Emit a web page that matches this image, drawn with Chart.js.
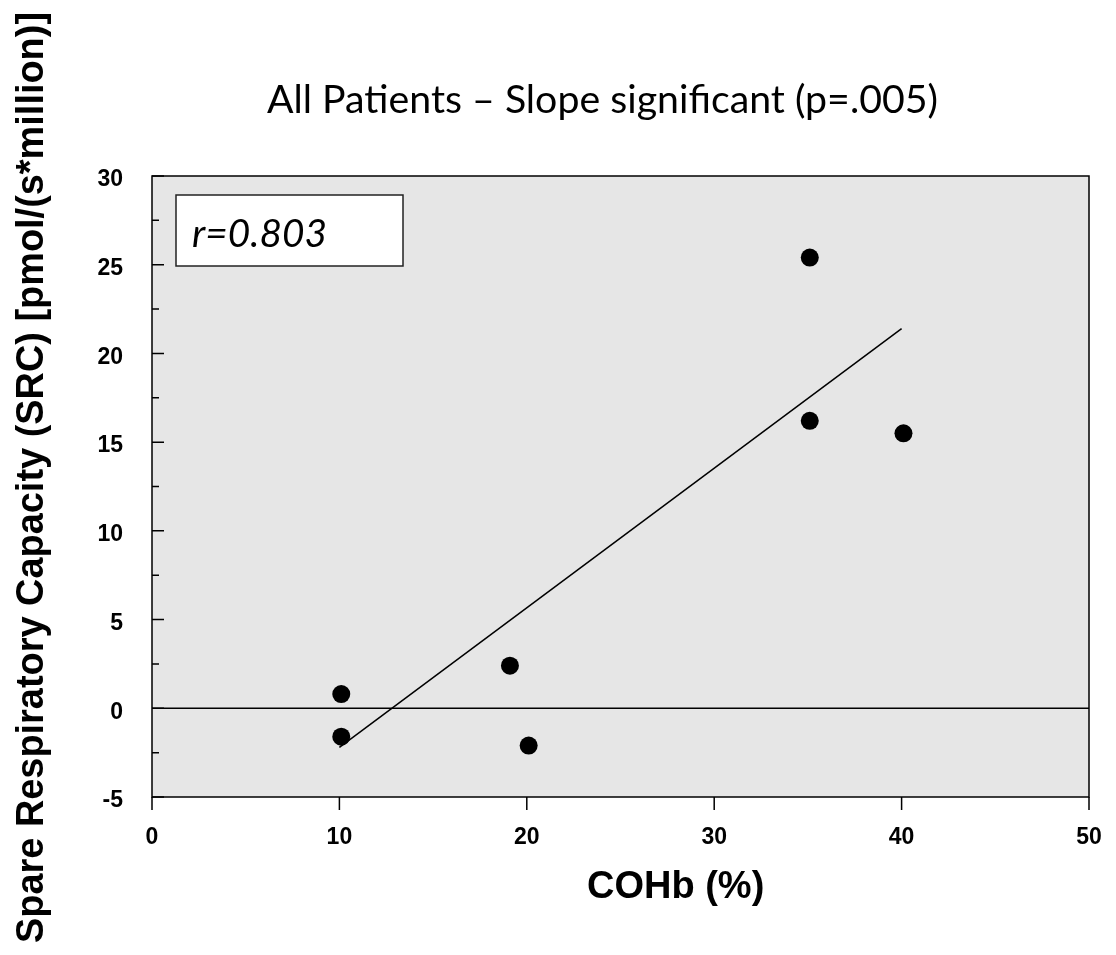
<!DOCTYPE html>
<html>
<head>
<meta charset="utf-8">
<script src="https://cdn.jsdelivr.net/npm/chart.js@4.4.1/dist/chart.umd.min.js"></script>
<style>
  html, body { margin: 0; padding: 0; background: #fff; }
  #wrap { width: 1116px; height: 955px; }
</style>
</head>
<body>
<div id="wrap"><canvas id="chart" width="1116" height="955"></canvas></div>
<script>
// COHb (%) against spare respiratory capacity, all patients
const cohb = [10.1, 10.1, 19.1, 20.1, 35.1, 35.1, 40.1];
const src = [0.8, -1.6, 2.4, -2.1, 25.4, 16.2, 15.5];

// fitted line at both ends
const fitX = [10.0, 40.0];
const fitY = [-2.2, 21.4];

// reference line at zero
const zeroX = [0, 50];
const zeroY = [0, 0];

const xTicks = [0, 10, 20, 30, 40, 50];
const yTicks = [-5, 0, 5, 10, 15, 20, 25, 30];
const yMinorTicks = [-2.5, 2.5, 7.5, 12.5, 17.5, 22.5, 27.5];

const titleText = "All Patients \u2013 Slope significant (p=.005)";
const xTitle = "COHb (%)";
const yTitle = "Spare Respiratory Capacity (SRC) [pmol/(s*million)]";
const rText = "r=0.803";

const toPoints = (xs, ys) => xs.map((x, i) => ({ x: x, y: ys[i] }));
const tickFont = { family: "'Liberation Sans', Arial, sans-serif", size: 23, weight: "bold" };

// draws text stretched or squeezed to a given width
function fitText(ctx, text, x, y, width) {
  const w = ctx.measureText(text).width;
  ctx.save();
  ctx.translate(x, y);
  ctx.scale(width / w, 1);
  ctx.fillText(text, 0, 0);
  ctx.restore();
}

// plot frame, inward y ticks, outward x ticks, the r box and all titles
const framePlugin = {
  id: "frame",
  beforeDatasetsDraw(chart) {
    const { ctx, chartArea: a, scales: { x, y } } = chart;
    ctx.save();
    ctx.fillStyle = "#e6e6e6";
    ctx.fillRect(a.left, a.top, a.right - a.left, a.bottom - a.top);

    ctx.strokeStyle = "#000";
    ctx.lineWidth = 1.5;
    ctx.strokeRect(a.left, a.top, a.right - a.left, a.bottom - a.top);

    ctx.beginPath();
    yTicks.forEach(v => {
      const py = y.getPixelForValue(v);
      ctx.moveTo(a.left, py);
      ctx.lineTo(a.left + 12, py);
    });
    yMinorTicks.forEach(v => {
      const py = y.getPixelForValue(v);
      ctx.moveTo(a.left, py);
      ctx.lineTo(a.left + 7, py);
    });
    xTicks.forEach(v => {
      const px = x.getPixelForValue(v);
      ctx.moveTo(px, a.bottom);
      ctx.lineTo(px, a.bottom + 13);
    });
    ctx.stroke();

    // r box
    ctx.fillStyle = "#fff";
    ctx.fillRect(a.left + 24, a.top + 19, 227, 71);
    ctx.strokeStyle = "#222";
    ctx.strokeRect(a.left + 24, a.top + 19, 227, 71);
    ctx.fillStyle = "#000";
    ctx.font = "italic 38px Lato, 'Open Sans', sans-serif";
    ctx.textAlign = "left";
    ctx.textBaseline = "alphabetic";
    fitText(ctx, rText, a.left + 40, a.top + 71, 135);
    ctx.restore();
  },
  afterDraw(chart) {
    const { ctx, chartArea: a } = chart;
    ctx.save();
    ctx.fillStyle = "#000";
    ctx.textBaseline = "alphabetic";
    ctx.textAlign = "left";

    ctx.font = "38px Lato, 'Open Sans', sans-serif";
    fitText(ctx, titleText, 267, 113, 671);

    ctx.font = "bold 38px 'Liberation Sans', Arial, sans-serif";
    ctx.fillText(xTitle, a.left + 435, 898);

    ctx.translate(43, 477.5);
    ctx.rotate(-Math.PI / 2);
    ctx.textAlign = "center";
    ctx.fillText(yTitle, 0, 0, 931);
    ctx.restore();
  }
};

new Chart(document.getElementById("chart").getContext("2d"), {
  type: "scatter",
  data: {
    datasets: [
      {
        data: toPoints(zeroX, zeroY),
        showLine: true,
        borderColor: "#000",
        borderWidth: 1.5,
        pointRadius: 0
      },
      {
        data: toPoints(fitX, fitY),
        showLine: true,
        borderColor: "#000",
        borderWidth: 1.5,
        pointRadius: 0
      },
      {
        data: toPoints(cohb, src),
        backgroundColor: "#000",
        borderWidth: 0,
        pointRadius: 9
      }
    ]
  },
  options: {
    responsive: false,
    animation: false,
    layout: { padding: { top: 176, right: 27, left: 0, bottom: 0 } },
    plugins: {
      legend: { display: false },
      tooltip: { enabled: false },
      title: { display: false }
    },
    scales: {
      x: {
        type: "linear",
        min: 0,
        max: 50,
        afterBuildTicks: s => { s.ticks = xTicks.map(v => ({ value: v })); },
        afterFit: s => { s.height = 158; s.paddingLeft = 0; s.paddingRight = 0; },
        grid: { display: false },
        border: { display: false },
        ticks: { color: "#000", font: tickFont, padding: 19, maxRotation: 0 }
      },
      y: {
        type: "linear",
        min: -5,
        max: 30,
        afterBuildTicks: s => { s.ticks = yTicks.map(v => ({ value: v })); },
        afterFit: s => { s.width = 152; s.paddingTop = 0; s.paddingBottom = 0; },
        grid: { display: false },
        border: { display: false },
        ticks: { color: "#000", font: tickFont, padding: 21, labelOffset: 4 }
      }
    }
  },
  plugins: [framePlugin]
});
</script>
</body>
</html>
